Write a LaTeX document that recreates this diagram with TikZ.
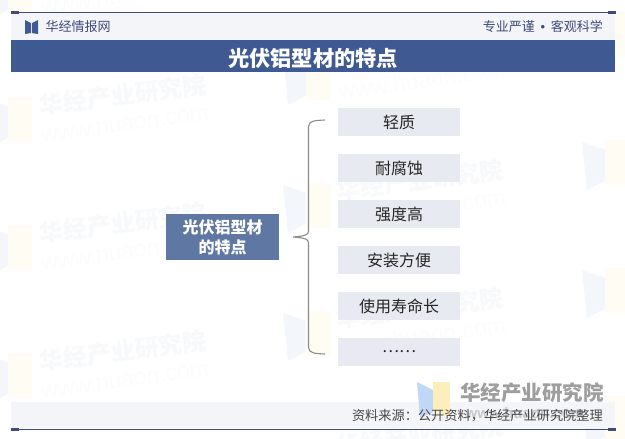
\documentclass[tikz,border=0pt]{standalone}
\usepackage{fontspec}
\setmainfont{Noto Sans CJK SC}
\newfontfamily\latinfont{Liberation Sans}
\definecolor{navy}{HTML}{3F4B7C}
\definecolor{band}{HTML}{3F5A92}
\definecolor{headbg}{HTML}{F3F5F9}
\definecolor{boxbg}{HTML}{E6E9F0}
\definecolor{hubbg}{HTML}{5F77A3}
\definecolor{wmtext}{HTML}{F8F9FB}
\definecolor{wmurlc}{HTML}{FBFCFD}
\definecolor{wmblue}{HTML}{F3F7FC}
\definecolor{wmyellow}{HTML}{FEFCF3}
\definecolor{logoblue}{HTML}{BFD8F6}
\definecolor{logoyellow}{HTML}{FCEFBC}
\newcommand{\fsz}[1]{\fontsize{#1}{#1}\selectfont}
\tikzset{
  x=1pt,y=-1pt,
  itembox/.style={draw=none,fill=boxbg,fill opacity=.93,text opacity=1,minimum width=122pt,minimum height=28pt,inner sep=0pt,font=\fsz{16},text=black!85},
  hubbox/.style={draw=none,fill=hubbg,minimum width=113pt,minimum height=46pt,inner sep=0pt,align=center,font=\fontsize{16}{20}\selectfont\bfseries,text=white},
  wmtitle/.style={inner sep=0pt,rotate=7,font=\fsz{24}\bfseries,text=wmtext},
  wmurl/.style={inner sep=0pt,rotate=8,font=\latinfont\fsz{23},text=wmurlc},
  brace/.style={draw=black!45,line width=1.1pt,fill=none},
  rule/.style={draw=navy,line width=1pt},
  headtext/.style={inner sep=0pt,font=\fsz{13},text=navy},
}
\newcommand{\waterbook}[2]{%
  \fill[wmblue] (#1,#2+2) -- (#1+24,#2+10) -- (#1+24,#2+40) -- (#1+5,#2+50) -- cycle;
  \fill[wmyellow] (#1+23,#2) rectangle (#1+47,#2+45);
}
\begin{document}
\begin{tikzpicture}
\useasboundingbox (0,0) rectangle (625,439);
\fill[white] (0,0) rectangle (625,439);
% watermarks
\foreach \i/\cx/\cy in {1/123/-33,2/123/95,3/123/223,4/123/351,5/420/52,6/420/180,7/420/308,8/420/436}{
  \node[wmtitle] (wmt\i) at (\cx,\cy) {华经产业研究院};
  \node[wmurl] (wmu\i) at (\cx+2,\cy+28) {www.huaon.com};
}
\foreach \ix/\iy in {-15/-31,-15/97,-15/225,-15/353,283/55,283/183,283/311,582/12,582/140,582/268,582/396}{
  \waterbook{\ix}{\iy}
}
% header
\fill[headbg] (11,13) rectangle (615,40);
\fill[band] (11,40) rectangle (615,72);
\draw[rule] (11,12.5) -- (615,12.5);
\fill[navy] (11,11) rectangle (19,14);
\fill[navy] (608,11) rectangle (616,14);
\fill[band] (25,20) -- (31,23) -- (31,33) -- (25,34) -- cycle;
\fill[band] (38,20) -- (32,23) -- (32,33) -- (38,34) -- cycle;
\node[headtext,anchor=west] (brand) at (45.5,27) {华经情报网};
\node[headtext,anchor=east] (motto) at (603,26.5) {专业严谨\hspace{5.7pt}{\latinfont\fsz{13}•}\hspace{5.7pt}客观科学};
\node[inner sep=0pt,font=\fsz{21.25}\bfseries,text=white] (title) at (313,58) {光伏铝型材的特点};
% footer
\fill[headbg] (11,402) rectangle (615,428);
\fill[logoblue] (417,382) -- (433,390) -- (433,412) -- (420,418) -- cycle;
\fill[logoyellow] (433,382) -- (450,382) -- (450,416) -- (433,412) -- cycle;
\node[inner sep=0pt,anchor=west,font=\fsz{20.5}\bfseries,text=black!38] (wmlogo) at (460,392.5) {华经产业研究院};
\node[inner sep=0pt,font=\latinfont\fsz{15}\bfseries,text=black!22] (wmlogourl) at (525,413) {www.huaon.com};
\node[headtext,anchor=east,text=black!72,font=\fsz{13.2}] (source) at (603,416) {资料来源^^^^ff1a公开资料^^^^ff0c华经产业研究院整理};
\draw[rule] (11,429) -- (615,429);
\fill[navy] (11,428) rectangle (19,431);
\fill[navy] (608,428) rectangle (616,431);
% diagram
\node[hubbox] (hub) at (222.5,237) {光伏铝型材\\的特点};
\node[itembox] (i1) at (399,122) {轻质};
\node[itembox] (i2) at (399,168) {耐腐蚀};
\node[itembox] (i3) at (399,214) {强度高};
\node[itembox] (i4) at (399,260) {安装方便};
\node[itembox] (i5) at (399,306) {使用寿命长};
\node[itembox] (i6) at (399,352) {……};
\coordinate (bt) at (325,120);
\coordinate (bm) at (293,237);
\coordinate (bb) at (325,354);
\draw[brace] (bt) .. controls (315,120.5) and (308.5,120.5) .. (308.5,127)
  -- (308.5,231) .. controls (308.5,235) and (305,236) .. (bm)
  .. controls (305,238) and (308.5,239) .. (308.5,243)
  -- (308.5,347) .. controls (308.5,353.5) and (315,353.5) .. (bb);
\end{tikzpicture}
\end{document}
